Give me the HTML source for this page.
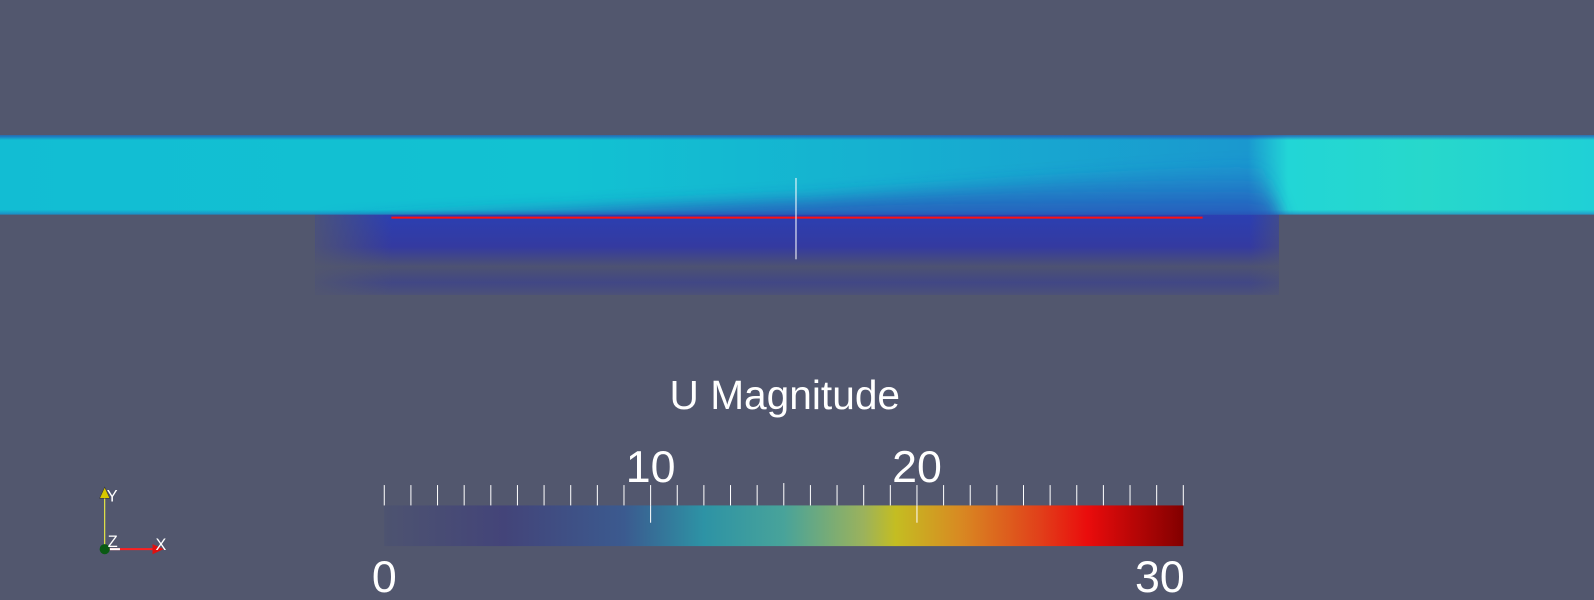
<!DOCTYPE html>
<html><head><meta charset="utf-8">
<style>
html,body{margin:0;padding:0;background:#52576e;}
svg{display:block;}
text{font-family:"Liberation Sans",sans-serif;fill:#fff;}
</style></head>
<body>
<svg width="1594" height="600" viewBox="0 0 1568 590" preserveAspectRatio="none">
<defs>
<linearGradient id="chan" x1="0" x2="1" y1="0" y2="0">
<stop offset="0" stop-color="#12bdd3"/>
<stop offset="0.35" stop-color="#12c2d2"/>
<stop offset="0.55" stop-color="#16b0d0"/>
<stop offset="0.77" stop-color="#1a98cf"/>
<stop offset="0.795" stop-color="#22d6d6"/>
<stop offset="0.88" stop-color="#27d8cb"/>
<stop offset="1" stop-color="#1ecfd8"/>
</linearGradient>
<linearGradient id="chanV" x1="0" x2="0" y1="0" y2="1">
<stop offset="0" stop-color="#2a40b0" stop-opacity="0.7"/>
<stop offset="0.06" stop-color="#2a40b0" stop-opacity="0"/>
<stop offset="0.94" stop-color="#2a40b0" stop-opacity="0"/>
<stop offset="1" stop-color="#2a40b0" stop-opacity="0.4"/>
</linearGradient>
<linearGradient id="wedge" x1="0" x2="0" y1="0" y2="1">
<stop offset="0" stop-color="#2a50c0" stop-opacity="0"/>
<stop offset="1" stop-color="#2b3fb2" stop-opacity="0.85"/>
</linearGradient>
<linearGradient id="cav" x1="0" x2="0" y1="0" y2="1">
<stop offset="0" stop-color="#2b3fb2"/>
<stop offset="0.4" stop-color="#343aa0"/>
<stop offset="0.65" stop-color="#4d5272"/>
<stop offset="0.85" stop-color="#414785"/>
<stop offset="1" stop-color="#4c5178"/>
</linearGradient>
<linearGradient id="cavH" x1="0" x2="1" y1="0" y2="0">
<stop offset="0" stop-color="#52576e" stop-opacity="0.8"/>
<stop offset="0.08" stop-color="#52576e" stop-opacity="0"/>
<stop offset="0.97" stop-color="#52576e" stop-opacity="0"/>
<stop offset="1" stop-color="#52576e" stop-opacity="0.5"/>
</linearGradient>
<linearGradient id="cbar" x1="0" x2="1" y1="0" y2="0">
<stop offset="0" stop-color="#4d5370"/>
<stop offset="0.15" stop-color="#434479"/>
<stop offset="0.3" stop-color="#3b5a8f"/>
<stop offset="0.4" stop-color="#2d93a5"/>
<stop offset="0.5" stop-color="#48a39a"/>
<stop offset="0.6" stop-color="#9bb25c"/>
<stop offset="0.64" stop-color="#c4bd22"/>
<stop offset="0.72" stop-color="#d88a22"/>
<stop offset="0.82" stop-color="#e1401a"/>
<stop offset="0.88" stop-color="#ea0c0c"/>
<stop offset="1" stop-color="#820000"/>
</linearGradient>
<filter id="blur" x="-10%" y="-50%" width="120%" height="200%"><feGaussianBlur stdDeviation="8"/></filter>
<clipPath id="chanClip"><rect x="0" y="133" width="1594" height="78"/></clipPath>
</defs>
<g>
<rect x="310" y="211" width="948" height="79" fill="url(#cav)"/>
<rect x="310" y="211" width="948" height="79" fill="url(#cavH)"/>
<rect x="0" y="133" width="1594" height="78" fill="url(#chan)"/>
<g clip-path="url(#chanClip)">
<polygon points="310,220 800,195 1240,160 1262,220" fill="url(#wedge)" filter="url(#blur)"/>
</g>
<rect x="0" y="133" width="1594" height="78" fill="url(#chanV)"/>
<line x1="385" y1="214" x2="1183" y2="214" stroke="#ff1010" stroke-width="2"/>
<line x1="783" y1="175" x2="783" y2="255" stroke="#ffffff" stroke-width="1"/>
</g>
<g id="cb">
<text x="772" y="402" font-size="40" text-anchor="middle">U Magnitude</text>
<rect x="378" y="497" width="786" height="40" fill="url(#cbar)"/>
</g>
<g>
<line x1="103" y1="540" x2="103" y2="488" stroke="#ffff40" stroke-width="1"/>
<polygon points="103,479 98,490 108,490" fill="#d8c800" stroke="#333" stroke-width="0.5"/>
<line x1="103" y1="540" x2="150" y2="540" stroke="#ff2020" stroke-width="2"/>
<line x1="108" y1="540" x2="118" y2="540" stroke="#fff" stroke-width="2"/>
<polygon points="161,540 150,535 150,545" fill="#e01010"/>
<circle cx="103" cy="540" r="5" fill="#0a5a14"/>
<text x="105" y="493" font-size="16">Y</text>
<text x="106" y="538" font-size="16">Z</text>
<text x="153" y="541" font-size="16">X</text>
</g>
</svg>
<script>
const tickValues=[0,1,2,3,4,5,6,7,8,9,10,11,12,13,14,15,16,17,18,19,20,21,22,23,24,25,26,27,28,29,30];
const majorLabels=["10","20"];
const majorValues=[10,20];
const endLabels=["0","30"];
const endValues=[0,30];
const vmin=0,vmax=30,x0=378,x1=1164;
const sx=v=>x0+(v-vmin)/(vmax-vmin)*(x1-x0);
const ns="http://www.w3.org/2000/svg";
const g=document.getElementById('cb');
tickValues.forEach(v=>{
 const l=document.createElementNS(ns,'line');
 
 
 l.setAttribute('x1',sx(v));l.setAttribute('x2',sx(v));
 l.setAttribute('y1',v===15?475:477);l.setAttribute('y2',497);
 l.setAttribute('stroke','#fff');l.setAttribute('stroke-width','1');
 g.appendChild(l);
});
majorValues.forEach((v,i)=>{
 const l=document.createElementNS(ns,'line');
 
 
 l.setAttribute('x1',sx(v));l.setAttribute('x2',sx(v));
 l.setAttribute('y1',497);l.setAttribute('y2',514);
 l.setAttribute('stroke','#fff');l.setAttribute('stroke-width','1');
 g.appendChild(l);
 const t=document.createElementNS(ns,'text');
 
 
 t.setAttribute('x',sx(v));t.setAttribute('y',474);
 t.setAttribute('font-size','44');t.setAttribute('text-anchor','middle');
 t.textContent=majorLabels[i];
 g.appendChild(t);
});
endValues.forEach((v,i)=>{
 const t=document.createElementNS(ns,'text');
 
 
 t.setAttribute('x',i===0?sx(v):sx(v)-23);t.setAttribute('y',582);
 t.setAttribute('font-size','44');t.setAttribute('text-anchor','middle');
 t.textContent=endLabels[i];
 g.appendChild(t);
});
</script>
</body></html>
